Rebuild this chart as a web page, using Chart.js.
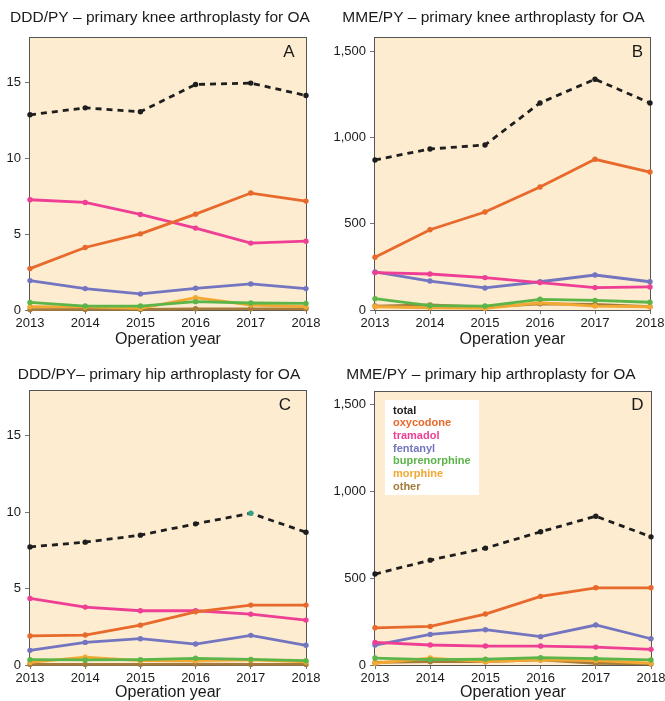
<!DOCTYPE html>
<html>
<head>
<meta charset="utf-8">
<script src="https://cdn.jsdelivr.net/npm/chart.js@4.4.0/dist/chart.umd.min.js"></script>
<style>
  html, body { margin: 0; padding: 0; background: #fff; width: 665px; height: 701px; overflow: hidden; position: relative; }
  canvas { position: absolute; }
</style>
</head>
<body>
<canvas id="panel-a" width="330" height="350" style="left:0;top:0"></canvas>
<canvas id="panel-b" width="335" height="350" style="left:330px;top:0"></canvas>
<canvas id="panel-c" width="330" height="356" style="left:0;top:350px"></canvas>
<canvas id="panel-d" width="335" height="356" style="left:330px;top:350px"></canvas>
<script>
// --- data ---
const years = ['2013', '2014', '2015', '2016', '2017', '2018'];
const drugNames = ['total', 'oxycodone', 'tramadol', 'fentanyl', 'buprenorphine', 'morphine', 'other'];
const drugColors = ['#1e1e1e', '#e8692c', '#ee3f95', '#7375c0', '#5cb548', '#f2a833', '#a57c3a'];

// A: DDD/PY, knee
const kneeDddTotal = [12.87, 13.33, 13.07, 14.87, 14.96, 14.14];
const kneeDddOxy = [2.73, 4.12, 5.02, 6.32, 7.71, 7.18];
const kneeDddTram = [7.27, 7.09, 6.30, 5.40, 4.41, 4.54];
const kneeDddFent = [1.94, 1.41, 1.06, 1.43, 1.72, 1.41];
const kneeDddBup = [0.50, 0.26, 0.26, 0.55, 0.46, 0.44];
const kneeDddMorph = [0.22, 0.20, 0.11, 0.81, 0.33, 0.22];
const kneeDddOther = [0.02, 0.04, 0.04, 0.08, 0.08, 0.08];

// B: MME/PY, knee
const kneeMmeTotal = [871, 935, 958, 1202, 1340, 1202];
const kneeMmeOxy = [306, 466, 569, 714, 875, 801];
const kneeMmeTram = [217, 209, 188, 159, 130, 134];
const kneeMmeFent = [221, 168, 128, 164, 203, 164];
const kneeMmeBup = [66, 25, 23, 62, 56, 45];
const kneeMmeMorph = [19, 13, 10, 42, 23, 19];
const kneeMmeOther = [23, 29, 17, 36, 33, 19];

// C: DDD/PY, hip
const hipDddTotal = [7.73, 8.04, 8.50, 9.24, 9.93, 8.69];
const hipDddOxy = [1.90, 1.96, 2.61, 3.48, 3.92, 3.92];
const hipDddTram = [4.36, 3.79, 3.55, 3.55, 3.33, 2.94];
const hipDddFent = [0.96, 1.48, 1.72, 1.37, 1.94, 1.29];
const hipDddBup = [0.35, 0.33, 0.35, 0.44, 0.37, 0.28];
const hipDddMorph = [0.17, 0.51, 0.28, 0.28, 0.33, 0.20];
const hipDddOther = [0.04, 0.04, 0.04, 0.06, 0.04, 0.04];

// D: MME/PY, hip
const hipMmeTotal = [523, 603, 672, 766, 856, 737];
const hipMmeOxy = [214, 222, 293, 395, 444, 444];
const hipMmeTram = [130, 115, 109, 109, 103, 90];
const hipMmeFent = [115, 176, 203, 163, 230, 151];
const hipMmeBup = [40, 31, 33, 42, 37, 29];
const hipMmeMorph = [10, 40, 19, 29, 25, 10];
const hipMmeOther = [15, 19, 19, 29, 10, 6];

const dddTicks = [0, 5, 10, 15];
const mmeTicks = [0, 500, 1000, 1500];

Chart.defaults.font.family = '"Liberation Sans", Arial, Helvetica, sans-serif';
Chart.defaults.color = '#1a1a1a';

// plot background, frame, panel letter and (optionally) legend box
const panelDecor = {
  id: 'panelDecor',
  afterLayout(chart, args, opts) {
    // nudge the title so it sits where it does in the figure
    if (chart.titleBlock && opts.titleShift) {
      chart.titleBlock.left += opts.titleShift;
      chart.titleBlock.right += opts.titleShift;
    }
  },
  beforeDraw(chart) {
    const { ctx, chartArea: a } = chart;
    ctx.save();
    ctx.fillStyle = '#fdecd0';
    ctx.fillRect(a.left, a.top, a.right - a.left, a.bottom - a.top);
    ctx.restore();
  },
  beforeDatasetsDraw(chart) {
    const { ctx, chartArea: a } = chart;
    ctx.save();
    ctx.strokeStyle = '#555';
    ctx.lineWidth = 1;
    ctx.strokeRect(a.left - 0.5, a.top + 0.5, a.right - a.left + 1, a.bottom - a.top);
    ctx.restore();
  },
  afterDatasetsDraw(chart, args, opts) {
    const { ctx, chartArea: a } = chart;
    ctx.save();
    ctx.font = '17px "Liberation Sans", Arial, sans-serif';
    ctx.fillStyle = '#1a1a1a';
    ctx.textAlign = 'center';
    ctx.textBaseline = 'middle';
    ctx.fillText(opts.letter, a.right - opts.letterDx, a.top + opts.letterDy);

    if (opts.legend) {
      ctx.fillStyle = '#fff';
      ctx.fillRect(a.left + 10, a.top + 9, 94, 95);
      ctx.font = 'bold 11px "Liberation Sans", Arial, sans-serif';
      ctx.textAlign = 'left';
      chart.data.datasets.forEach((ds, i) => {
        ctx.fillStyle = ds.borderColor;
        ctx.fillText(ds.label, a.left + 18, a.top + 19.5 + i * 12.7);
      });
    }
    ctx.restore();
  }
};

function buildDatasets(series, firstPointColors) {
  return series.map((values, i) => ({
    label: drugNames[i],
    data: values,
    borderColor: drugColors[i],
    backgroundColor: drugColors[i],
    pointBackgroundColor: (i === 0 && firstPointColors) ? firstPointColors : drugColors[i],
    pointBorderWidth: 0,
    pointRadius: 2.7,
    borderWidth: 2.8,
    borderDash: i === 0 ? [6, 5] : [],
    tension: 0,
    clip: false
  }));
}

function buildChart(id, p) {
  new Chart(document.getElementById(id), {
    type: 'line',
    data: { labels: years, datasets: buildDatasets(p.series, p.firstPointColors) },
    options: {
      responsive: false,
      animation: false,
      layout: { padding: { left: 0, right: p.padRight, top: 0, bottom: 0 } },
      plugins: {
        legend: { display: false },
        tooltip: { enabled: false },
        title: {
          display: true,
          text: p.title,
          font: { size: 15.5, weight: 'normal' },
          color: '#1a1a1a',
          padding: { top: p.titleTop, bottom: p.titleBottom }
        },
        panelDecor: {
          letter: p.letter, letterDx: p.letterDx, letterDy: p.letterDy,
          legend: !!p.legend, titleShift: p.titleShift
        }
      },
      scales: {
        x: {
          type: 'category',
          offset: false,
          border: { display: false },
          grid: { display: true, drawOnChartArea: false, drawTicks: true, tickLength: 4, color: '#777' },
          ticks: { padding: 2, font: { size: 13 }, color: '#1a1a1a', maxRotation: 0, autoSkip: false },
          title: { display: true, text: 'Operation year', font: { size: 16 }, color: '#1a1a1a', padding: { top: 0, bottom: p.xTitlePad } },
          afterFit(scale) { scale.height = p.xHeight; scale.paddingLeft = 0; scale.paddingRight = 0; }
        },
        y: {
          min: 0,
          max: p.yMax,
          border: { display: false },
          grid: { display: true, drawOnChartArea: false, drawTicks: true, tickLength: 5, color: '#777' },
          afterBuildTicks(scale) { scale.ticks = p.ticks.map(v => ({ value: v })); },
          ticks: {
            padding: 4,
            font: { size: 13 },
            color: '#1a1a1a',
            callback: v => v.toLocaleString('en-US')
          },
          afterFit(scale) { scale.width = p.yWidth; scale.paddingTop = 0; scale.paddingBottom = 0; }
        }
      }
    },
    plugins: [panelDecor]
  });
}

buildChart('panel-a', {
  title: 'DDD/PY \u2013 primary knee arthroplasty for OA',
  series: [kneeDddTotal, kneeDddOxy, kneeDddTram, kneeDddFent, kneeDddBup, kneeDddMorph, kneeDddOther],
  yMax: 18, ticks: dddTicks, yWidth: 30, padRight: 24, titleShift: 7,
  titleTop: 8.6, titleBottom: 9.8, xHeight: 40, xTitlePad: 0.4,
  letter: 'A', letterDx: 17, letterDy: 15
});

buildChart('panel-b', {
  title: 'MME/PY \u2013 primary knee arthroplasty for OA',
  series: [kneeMmeTotal, kneeMmeOxy, kneeMmeTram, kneeMmeFent, kneeMmeBup, kneeMmeMorph, kneeMmeOther],
  yMax: 1585, ticks: mmeTicks, yWidth: 45, padRight: 15, titleShift: 3.5,
  titleTop: 8.6, titleBottom: 9.8, xHeight: 40, xTitlePad: 0.4,
  letter: 'B', letterDx: 12.5, letterDy: 15
});

buildChart('panel-c', {
  title: 'DDD/PY\u2013 primary hip arthroplasty for OA',
  series: [hipDddTotal, hipDddOxy, hipDddTram, hipDddFent, hipDddBup, hipDddMorph, hipDddOther],
  firstPointColors: ['#1e1e1e', '#1e1e1e', '#1e1e1e', '#1e1e1e', '#2aa585', '#1e1e1e'],
  yMax: 18, ticks: dddTicks, yWidth: 30, padRight: 24, titleShift: 6,
  titleTop: 15.6, titleBottom: 5.8, xHeight: 41, xTitlePad: 3.4,
  letter: 'C', letterDx: 21, letterDy: 15
});

buildChart('panel-d', {
  title: 'MME/PY \u2013 primary hip arthroplasty for OA',
  series: [hipMmeTotal, hipMmeOxy, hipMmeTram, hipMmeFent, hipMmeBup, hipMmeMorph, hipMmeOther],
  yMax: 1576, ticks: mmeTicks, yWidth: 45, padRight: 14, titleShift: 0.5,
  titleTop: 15.6, titleBottom: 6.8, xHeight: 41, xTitlePad: 3.4,
  letter: 'D', letterDx: 13.5, letterDy: 14, legend: true
});
</script>
</body>
</html>
